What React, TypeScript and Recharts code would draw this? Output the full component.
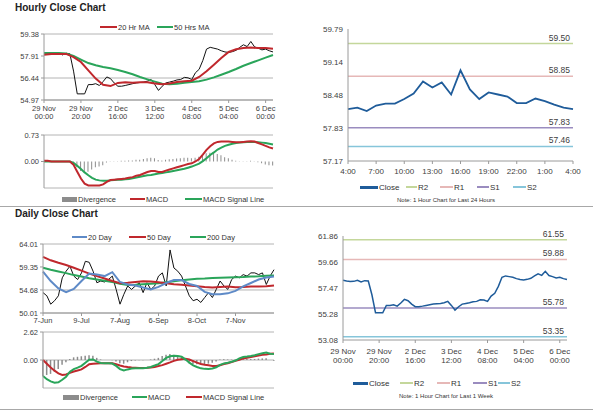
import React from 'react';
import { ComposedChart, LineChart, Line, Bar, XAxis, YAxis, CartesianGrid, ReferenceLine } from 'recharts';

const RED = '#c0282d';
const GREEN = '#2aa55a';
const BLUE = '#5e8ac7';
const CLOSE_BLUE = '#1f5c9a';
const DIV_GRAY = '#8c8c8c';
const GRID = '#b4b4b4';
const AXIS = '#9a9a9a';
const TEXT = '#404040';
const LEVEL_COLORS = ['#c4d79b', '#e6b8b7', '#9a8cbf', '#86c5da'];
const LEVEL_NAMES = ['R2', 'R1', 'S1', 'S2'];

// hourly bars for the last week (one point every 2 hours)
const hourlyClose = [
  58.12, 58.06, 58.01, 58.03, 58.12, 57.98, 58.09, 58.06, 56.9, 55.38,
  55.38, 55.38, 56.0, 56.0, 56.06, 55.94, 56.2, 56.51, 56.4, 56.11,
  55.89, 55.89, 55.94, 56.0, 56.06, 56.11, 56.14, 56.17, 56.23, 56.34,
  56.0, 55.61, 55.89, 56.11, 56.17, 56.23, 56.31, 56.34, 56.48, 56.45,
  56.34, 56.79, 57.02, 57.61, 58.37, 58.49, 58.43, 58.37, 58.26, 58.18,
  58.15, 58.2, 58.29, 58.49, 58.66, 58.54, 58.88, 58.52, 58.43, 58.32,
  58.37, 58.26, 58.18,
];
// moving averages, read every 4 hours
const ma20Hr = [
  58.0, 58.04, 58.05, 58.05, 57.84, 57.51, 56.95, 56.4, 55.99, 55.9, 56.11,
  56.15, 56.13, 56.15, 56.15, 56.08, 56.02, 56.08, 56.17, 56.22, 56.26,
  56.51, 56.89, 57.33, 57.78, 58.18, 58.36, 58.44, 58.47, 58.44, 58.44, 58.4,
];
const ma50Hr = [
  58.11, 58.11, 58.11, 58.08, 57.91, 57.67, 57.44, 57.29, 57.18, 57.09, 56.97,
  56.84, 56.69, 56.51, 56.35, 56.2, 56.06, 56.02, 56.06, 56.13, 56.17,
  56.22, 56.33, 56.48, 56.66, 56.84, 57.04, 57.26, 57.44, 57.62, 57.8, 57.98,
];
const macdHourly = [
  0.02, 0.02, 0, 0, 0, 0, 0, 0, -0.09, -0.28,
  -0.47, -0.61, -0.66, -0.66, -0.66, -0.66, -0.63, -0.56, -0.51, -0.5,
  -0.49, -0.48, -0.47, -0.45, -0.43, -0.39, -0.37, -0.33, -0.29, -0.26,
  -0.26, -0.29, -0.29, -0.25, -0.22, -0.19, -0.16, -0.13, -0.1, -0.07,
  -0.05, 0, 0.07, 0.19, 0.32, 0.42, 0.5, 0.54, 0.55, 0.55,
  0.55, 0.54, 0.53, 0.53, 0.54, 0.55, 0.56, 0.55, 0.51, 0.47,
  0.43, 0.39, 0.36,
];
const signalHourly = [
  0, 0, 0, 0, 0, 0, 0, 0, -0.04, -0.12,
  -0.21, -0.3, -0.38, -0.45, -0.5, -0.52, -0.53, -0.53, -0.52, -0.51,
  -0.5, -0.5, -0.49, -0.48, -0.46, -0.44, -0.42, -0.4, -0.38, -0.37,
  -0.35, -0.33, -0.32, -0.3, -0.28, -0.26, -0.24, -0.22, -0.2, -0.17,
  -0.14, -0.1, -0.06, 0.01, 0.09, 0.18, 0.25, 0.33, 0.38, 0.43,
  0.46, 0.49, 0.51, 0.52, 0.53, 0.54, 0.54, 0.54, 0.53, 0.52,
  0.51, 0.49, 0.47,
];
const divHourly = [
  0, 0, 0, 0, 0, 0, 0, 0, -0.05, -0.16,
  -0.26, -0.3, -0.28, -0.22, -0.16, -0.14, -0.1, -0.03, 0.01, 0.01,
  0.01, 0.02, 0.02, 0.03, 0.03, 0.05, 0.05, 0.07, 0.09, 0.1,
  0.09, 0.04, 0.03, 0.05, 0.06, 0.07, 0.08, 0.09, 0.1, 0.1,
  0.09, 0.1, 0.13, 0.18, 0.23, 0.24, 0.25, 0.21, 0.17, 0.12,
  0.09, 0.05, 0.02, 0.01, 0.01, 0.01, 0.02, 0.01, -0.02, -0.05,
  -0.08, -0.1, -0.11,
];
const hourlyTicks = [0, 10, 20, 30, 40, 50, 60];
const hourlyTickDays = ['29 Nov', '29 Nov', '2 Dec', '3 Dec', '4 Dec', '5 Dec', '6 Dec'];
const hourlyTickTimes = ['00:00', '20:00', '16:00', '12:00', '08:00', '04:00', '00:00'];

// daily bars (one point every ~2 sessions)
const dailyClose = [
  54.15, 53.5, 51.8, 52.5, 53.5, 57.15, 58.5, 59.5, 57.5, 56.8,
  58.15, 60.5, 60.3, 58.5, 56.15, 56.5, 56.3, 56.8, 57.5, 54.8,
  51.8, 53.8, 55.5, 54.8, 55.5, 56.15, 54.15, 56.15, 54.8, 55.5,
  57.5, 58.15, 55.5, 62.8, 59.15, 58.5, 57.5, 55.5, 53.5, 52.5,
  52.8, 52.15, 53.15, 54.15, 53.15, 54.8, 56.5, 55.5, 54.8, 56.8,
  57.5, 57.15, 57.8, 57.5, 58.15, 58.15, 57.8, 58.15, 55.8, 57.5,
  58.8,
];
const ma20Day = [
  58.4, 56.5, 55.0, 54.25, 54.9, 56.5, 58.0, 57.8, 57.5, 58.3, 56.3,
  55.8, 55.6, 55.2, 54.8, 55.3, 56.1, 56.7, 56.7, 55.9, 55.5,
  54.3, 53.8, 53.8, 54.0, 54.5, 55.4, 56.1, 56.8, 57.2, 57.4,
];
const ma50Day = [
  61.4, 60.7, 60.2, 59.75, 59.2, 58.6, 58.0, 57.5, 57.0, 56.5, 56.05,
  56.15, 56.3, 56.45, 56.4, 56.25, 56.05, 55.85, 55.75, 55.6, 55.45,
  55.3, 55.2, 55.3, 55.4, 55.25, 55.3, 55.4, 55.4, 55.45, 55.6,
];
const ma200Day = [
  59.2, 58.8, 58.45, 58.1, 57.7, 57.4, 57.05, 56.8, 56.55, 56.3, 55.95,
  55.7, 55.75, 55.85, 55.95, 56.05, 56.25, 56.45, 56.65, 56.8, 56.95,
  57.0, 57.1, 57.15, 57.2, 57.25, 57.3, 57.4, 57.45, 57.55, 57.6,
];
const macdDaily = [
  -1.5, -1.8, -2.0, -2.12, -2.08, -1.85, -1.56, -1.1, -0.85, -0.72,
  -0.55, -0.25, 0.03, 0.05, -0.15, -0.28, -0.31, -0.31, -0.33, -0.55,
  -0.85, -0.98, -0.88, -0.8, -0.78, -0.78, -0.77, -0.72, -0.65, -0.52,
  -0.38, -0.1, 0.2, 0.35, 0.4, 0.38, 0.3, 0.06, -0.25, -0.5,
  -0.65, -0.78, -0.83, -0.84, -0.8, -0.68, -0.45, -0.32, -0.25, -0.16,
  -0.05, 0.15, 0.28, 0.32, 0.37, 0.45, 0.55, 0.63, 0.69, 0.58,
  0.55,
];
const signalDaily = [
  0, -0.35, -0.7, -1.0, -1.25, -1.4, -1.35, -1.2, -1.08, -0.98,
  -0.88, -0.65, -0.4, -0.35, -0.32, -0.31, -0.31, -0.31, -0.31, -0.4,
  -0.52, -0.6, -0.66, -0.71, -0.73, -0.75, -0.75, -0.73, -0.7, -0.65,
  -0.57, -0.48, -0.35, -0.22, -0.08, 0.02, 0.08, 0.12, 0.05, -0.1,
  -0.25, -0.38, -0.45, -0.5, -0.55, -0.55, -0.5, -0.38, -0.3, -0.2,
  -0.08, 0.02, 0.15, 0.22, 0.28, 0.36, 0.42, 0.48, 0.52, 0.58,
  0.62,
];
const divDaily = [
  -1.5, -1.4, -1.3, -1.1, -0.85, -0.45, -0.2, 0.1, 0.25, 0.3,
  0.35, 0.4, 0.45, 0.4, 0.2, 0.05, 0, 0, -0.02, -0.15,
  -0.3, -0.35, -0.22, -0.1, -0.05, -0.03, -0.02, 0, 0.05, 0.12,
  0.2, 0.38, 0.5, 0.55, 0.48, 0.36, 0.22, -0.06, -0.3, -0.4,
  -0.4, -0.4, -0.38, -0.34, -0.25, -0.13, 0.05, 0.06, 0.05, 0.04,
  0.04, 0.12, 0.13, 0.1, 0.09, 0.09, 0.13, 0.15, 0.17, 0,
  -0.07,
];
const dailyTicks = [0, 10, 20, 30, 40, 50];
const dailyTickLabels = ['7-Jun', '9-Jul', '7-Aug', '6-Sep', '8-Oct', '7-Nov'];

// last 24 hours
const dayClose = [
  58.2, 58.23, 58.16, 58.27, 58.31, 58.31, 58.4, 58.51, 58.75, 58.63,
  58.73, 58.49, 58.97, 58.59, 58.4, 58.53, 58.49, 58.45, 58.32, 58.32,
  58.41, 58.36, 58.29, 58.23, 58.2,
];
const dayTicks = [0, 3, 6, 9, 12, 15, 18, 21, 24];
const dayTickLabels = ['4:00', '7:00', '10:00', '13:00', '16:00', '19:00', '22:00', '1:00', '4:00'];
const dayLevels = [59.5, 58.85, 57.83, 57.46];
const weekLevels = [61.55, 59.88, 55.78, 53.35];

const hourData = hourlyClose.map((close, i) => ({
  i,
  close,
  ma20: i % 2 === 0 ? ma20Hr[i / 2] : null,
  ma50: i % 2 === 0 ? ma50Hr[i / 2] : null,
  macd: macdHourly[i],
  signal: signalHourly[i],
  div: divHourly[i],
}));

const dailyData = dailyClose.map((close, i) => ({
  i,
  close,
  ma20: i % 2 === 0 ? ma20Day[i / 2] : null,
  ma50: i % 2 === 0 ? ma50Day[i / 2] : null,
  ma200: i % 2 === 0 ? ma200Day[i / 2] : null,
  macd: macdDaily[i],
  signal: signalDaily[i],
  div: divDaily[i],
}));

const dayData = dayClose.map((close, i) => ({ i, close }));

const fmt2 = (v: number) => v.toFixed(2);

const TwoLineTick = ({ x, y, payload, size, gap1, gap2 }: any) => {
  const idx = hourlyTicks.indexOf(payload.value);
  return (
    <text x={x} y={y} textAnchor="middle" fill={TEXT} fontSize={size}>
      <tspan x={x} dy={gap1}>{hourlyTickDays[idx]}</tspan>
      <tspan x={x} dy={gap2}>{hourlyTickTimes[idx]}</tspan>
    </text>
  );
};

function Key({ x, y, w, color, label, kind = 'line', size = 7.5, thick = 2.5 }: any) {
  return (
    <div style={{ position: 'absolute', left: x, top: y - 6, height: 12, display: 'flex', alignItems: 'center', fontSize: size, color: '#333', whiteSpace: 'nowrap' }}>
      <span style={{ display: 'inline-block', width: w, height: kind === 'bar' ? 5 : thick, background: color, marginRight: 1 }} />
      {label}
    </div>
  );
}

const Title = ({ top, children }: any) => (
  <div style={{ position: 'absolute', left: 15, top, fontSize: 10, fontWeight: 'bold', color: '#222' }}>{children}</div>
);

const Note = ({ top, children }: any) => (
  <div style={{ position: 'absolute', left: 300, width: 292, top, textAlign: 'center', fontSize: 6, color: '#333' }}>{children}</div>
);

const leftTick = { fontSize: 7.5, fill: TEXT };

export default function App() {
  return (
    <div style={{ position: 'absolute', left: 0, top: 0, width: 600, height: 413, background: '#fff', fontFamily: '"Liberation Sans", Arial, sans-serif', overflow: 'hidden' }}>
      <Title top={2}>Hourly Close Chart</Title>
      <Title top={208}>Daily Close Chart</Title>

      {/* hourly price with moving averages */}
      <Key x={100} y={27} w={17} color={RED} label="20 Hr MA" />
      <Key x={157} y={27} w={16} color={GREEN} label="50 Hrs MA" />
      <div style={{ position: 'absolute', left: 0, top: 30 }}>
        <ComposedChart width={280} height={96} data={hourData} margin={{ top: 4, right: 7, bottom: 0, left: 0 }}>
          <CartesianGrid vertical={false} stroke={GRID} />
          <XAxis dataKey="i" type="number" domain={[0, 62]} ticks={hourlyTicks} interval={0} height={26} stroke={AXIS} tickSize={3}
            tick={<TwoLineTick size={7.5} gap1={5.5} gap2={8.5} />} />
          <YAxis type="number" domain={[54.97, 59.38]} ticks={[54.97, 56.44, 57.91, 59.38]} width={44} stroke={AXIS} tickSize={3}
            tick={leftTick} tickFormatter={fmt2} />
          <Line dataKey="close" stroke="#111" strokeWidth={1} dot={false} isAnimationActive={false} />
          <Line dataKey="ma50" stroke={GREEN} strokeWidth={2} dot={false} connectNulls isAnimationActive={false} />
          <Line dataKey="ma20" stroke={RED} strokeWidth={2} dot={false} connectNulls isAnimationActive={false} />
        </ComposedChart>
      </div>

      {/* hourly MACD */}
      <div style={{ position: 'absolute', left: 0, top: 131 }}>
        <ComposedChart width={280} height={59} data={hourData} margin={{ top: 4, right: 7, bottom: 2, left: 0 }}>
          <CartesianGrid vertical={false} stroke={GRID} />
          <XAxis dataKey="i" type="number" domain={[0, 62]} hide />
          <YAxis type="number" domain={[-0.73, 0.73]} ticks={[-0.73, 0, 0.73]} width={44} stroke={AXIS} tickSize={3}
            tick={leftTick} tickFormatter={fmt2} />
          <Bar dataKey="div" fill={DIV_GRAY} barSize={1} isAnimationActive={false} />
          <Line dataKey="signal" stroke={GREEN} strokeWidth={2} dot={false} isAnimationActive={false} />
          <Line dataKey="macd" stroke={RED} strokeWidth={2} dot={false} isAnimationActive={false} />
        </ComposedChart>
      </div>
      <Key x={62} y={199} w={15} color={DIV_GRAY} label="Divergence" kind="bar" />
      <Key x={130} y={199} w={15} color={RED} label="MACD" />
      <Key x={185} y={199} w={17} color={GREEN} label="MACD Signal Line" />

      {/* daily price with moving averages */}
      <Key x={72} y={237} w={15} color={BLUE} label="20 Day" />
      <Key x={129} y={237} w={17} color={RED} label="50 Day" />
      <Key x={190} y={237} w={16} color={GREEN} label="200 Day" />
      <div style={{ position: 'absolute', left: 0, top: 240 }}>
        <ComposedChart width={281} height={87} data={dailyData} margin={{ top: 4, right: 7, bottom: 0, left: 0 }}>
          <CartesianGrid vertical={false} stroke={GRID} />
          <XAxis dataKey="i" type="number" domain={[0, 60]} ticks={dailyTicks} interval={0} height={14} stroke={AXIS} tickSize={3}
            tick={leftTick} tickFormatter={(v: number) => dailyTickLabels[dailyTicks.indexOf(v)]} />
          <YAxis type="number" domain={[50.01, 64.01]} ticks={[50.01, 54.68, 59.35, 64.01]} width={43} stroke={AXIS} tickSize={3}
            tick={leftTick} tickFormatter={fmt2} />
          <Line dataKey="close" stroke="#111" strokeWidth={1} dot={false} isAnimationActive={false} />
          <Line dataKey="ma200" stroke={GREEN} strokeWidth={2} dot={false} connectNulls isAnimationActive={false} />
          <Line dataKey="ma50" stroke={RED} strokeWidth={2} dot={false} connectNulls isAnimationActive={false} />
          <Line dataKey="ma20" stroke={BLUE} strokeWidth={2} dot={false} connectNulls isAnimationActive={false} />
        </ComposedChart>
      </div>

      {/* daily MACD */}
      <div style={{ position: 'absolute', left: 0, top: 328 }}>
        <ComposedChart width={281} height={62} data={dailyData} margin={{ top: 4, right: 7, bottom: 2, left: 0 }}>
          <CartesianGrid vertical={false} stroke={GRID} />
          <XAxis dataKey="i" type="number" domain={[0, 60]} hide />
          <YAxis type="number" domain={[-2.62, 2.62]} ticks={[-2.62, 0, 2.62]} width={43} stroke={AXIS} tickSize={3}
            tick={leftTick} tickFormatter={fmt2} />
          <Bar dataKey="div" fill={DIV_GRAY} barSize={1.5} isAnimationActive={false} />
          <Line dataKey="signal" stroke={RED} strokeWidth={2} dot={false} isAnimationActive={false} />
          <Line dataKey="macd" stroke={GREEN} strokeWidth={2} dot={false} isAnimationActive={false} />
        </ComposedChart>
      </div>
      <Key x={63} y={397} w={16} color={DIV_GRAY} label="Divergence" kind="bar" />
      <Key x={132} y={397} w={15} color={GREEN} label="MACD" />
      <Key x={186} y={397} w={16} color={RED} label="MACD Signal Line" />

      {/* last 24 hours with pivots */}
      <div style={{ position: 'absolute', left: 300, top: 15 }}>
        <LineChart width={283} height={162} data={dayData} margin={{ top: 14, right: 10, bottom: 0, left: 0 }}>
          <XAxis dataKey="i" type="number" domain={[0, 24]} ticks={dayTicks} interval={0} height={16} stroke={AXIS} tickSize={3} tickMargin={4}
            tick={{ fontSize: 8, fill: TEXT }} tickFormatter={(v: number) => dayTickLabels[dayTicks.indexOf(v)]} />
          <YAxis type="number" domain={[57.17, 59.79]} ticks={[57.17, 57.83, 58.48, 59.14, 59.79]} width={48} stroke={AXIS} tickSize={3}
            tickLine={false} tick={{ fontSize: 8, fill: TEXT }} tickFormatter={fmt2} />
          {dayLevels.map((v, k) => (
            <ReferenceLine key={LEVEL_NAMES[k]} y={v} stroke={LEVEL_COLORS[k]} strokeWidth={1.5}
              label={{ value: fmt2(v), position: 'insideBottomRight', offset: 3, fill: TEXT, fontSize: 8.5 }} />
          ))}
          <Line dataKey="close" stroke={CLOSE_BLUE} strokeWidth={1.8} dot={false} isAnimationActive={false} />
        </LineChart>
      </div>
      <Key x={360} y={187} w={18} color={CLOSE_BLUE} label="Close" size={8} thick={3} />
      {LEVEL_NAMES.map((n, k) => (
        <Key key={n} x={[406, 440, 477, 513][k]} y={187} w={[11, 13, 12, 13][k]} color={LEVEL_COLORS[k]} label={n} size={8} thick={1.5} />
      ))}
      <Note top={197}>Note: 1 Hour Chart for Last 24 Hours</Note>

      {/* last week hourly with pivots */}
      <div style={{ position: 'absolute', left: 300, top: 220 }}>
        <LineChart width={277} height={144} data={hourData} margin={{ top: 16, right: 10, bottom: 0, left: 0 }}>
          <XAxis dataKey="i" type="number" domain={[0, 62]} ticks={hourlyTicks} interval={0} height={24} stroke={AXIS} tickSize={3}
            tick={<TwoLineTick size={8} gap1={8.5} gap2={9} />} />
          <YAxis type="number" domain={[53.08, 61.86]} ticks={[53.08, 55.28, 57.47, 59.66, 61.86]} width={43} stroke={AXIS} tickSize={3}
            tickLine={false} tick={{ fontSize: 8, fill: TEXT }} tickFormatter={fmt2} />
          {weekLevels.map((v, k) => (
            <ReferenceLine key={LEVEL_NAMES[k]} y={v} stroke={LEVEL_COLORS[k]} strokeWidth={1.5}
              label={{ value: fmt2(v), position: 'insideBottomRight', offset: 3, fill: TEXT, fontSize: 8.5 }} />
          ))}
          <Line dataKey="close" stroke={CLOSE_BLUE} strokeWidth={1.5} dot={false} isAnimationActive={false} />
        </LineChart>
      </div>
      <Key x={353} y={383} w={15} color={CLOSE_BLUE} label="Close" size={8} thick={3} />
      {LEVEL_NAMES.map((n, k) => (
        <Key key={n} x={[400, 437, 473, 498][k]} y={383} w={[13, 13, 14, 12][k]} color={LEVEL_COLORS[k]} label={n} size={8} thick={1.5} />
      ))}
      <Note top={393}>Note: 1 Hour Chart for Last 1 Week</Note>

      <div style={{ position: 'absolute', left: 0, top: 206, width: 593, height: 1, background: '#a8a8a8' }} />
      <div style={{ position: 'absolute', left: 0, top: 409, width: 593, height: 1, background: '#a8a8a8' }} />
    </div>
  );
}
